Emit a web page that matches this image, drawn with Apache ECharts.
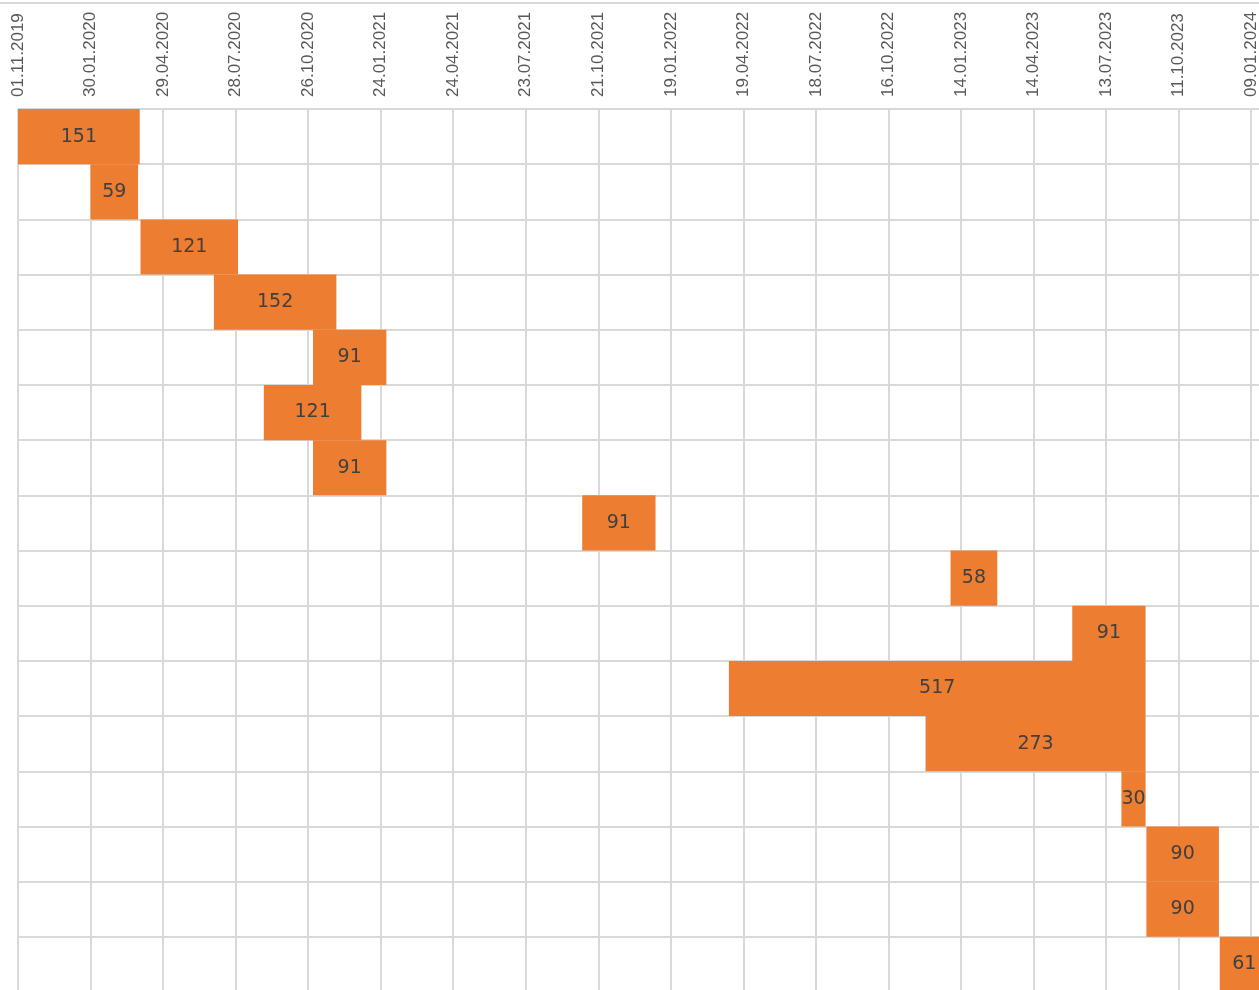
<!DOCTYPE html>
<html><head><meta charset="utf-8">
<script src="https://cdn.jsdelivr.net/npm/echarts@6/dist/echarts.min.js"></script>
<style>html,body{margin:0;padding:0;background:#fff;overflow:hidden}#c{width:1259px;height:990px}</style>
</head><body><div id="c"></div>
<script>
const axisStart = '2019-11-01';
const tickLabels = ['01.11.2019','30.01.2020','29.04.2020','28.07.2020','26.10.2020','24.01.2021','24.04.2021','23.07.2021','21.10.2021','19.01.2022','19.04.2022','18.07.2022','16.10.2022','14.01.2023','14.04.2023','13.07.2023','11.10.2023','09.01.2024'];
const categories = ['Task 1','Task 2','Task 3','Task 4','Task 5','Task 6','Task 7','Task 8','Task 9','Task 10','Task 11','Task 12','Task 13','Task 14','Task 15','Task 16'];
const startDates = ['2019-11-01','2020-01-30','2020-04-01','2020-07-01','2020-11-01','2020-09-01','2020-11-01','2021-10-01','2023-01-01','2023-06-01','2022-04-01','2022-12-01','2023-08-01','2023-09-01','2023-09-01','2023-12-01'];
const durations = [151,59,121,152,91,121,91,91,58,91,517,273,30,90,90,61];

function dayOffset(s){ return Math.round((Date.parse(s+'T00:00:00Z') - Date.parse(axisStart+'T00:00:00Z'))/86400000); }
const offsets = startDates.map(dayOffset);

const TICK = 90, AXMAX = 1620, PXD = 0.806;
const chart = echarts.init(document.getElementById('c'), null, {renderer:'canvas'});
chart.setOption({
  animation:false,
  backgroundColor:'#fff',
  graphic:[{type:'line', shape:{x1:0,y1:3,x2:1259,y2:3}, style:{stroke:'#d9d9d9', lineWidth:2}, silent:true}],
  grid:{left:18, top:109, width:AXMAX*PXD, height:883, containLabel:false, outerBoundsMode:'none'},
  xAxis:{type:'value', position:'top', min:0, max:AXMAX, interval:TICK,
    axisLine:{show:false}, axisTick:{show:false},
    axisLabel:{rotate:-90, margin:12, color:'#595959', fontSize:17, fontFamily:'"Liberation Sans",sans-serif',
      formatter:v=>tickLabels[Math.round(v/TICK)]||''},
    splitLine:{show:true, lineStyle:{color:'#d9d9d9', width:2}}},
  yAxis:{type:'category', inverse:true, data:categories,
    axisLine:{show:false}, axisTick:{show:false}, axisLabel:{show:false},
    splitLine:{show:true, lineStyle:{color:'#d9d9d9', width:2}}},
  series:[
    {type:'bar', stack:'g', data:offsets, barCategoryGap:'0%', silent:true, itemStyle:{color:'rgba(0,0,0,0)'}},
    {type:'bar', stack:'g', data:durations, barCategoryGap:'0%', itemStyle:{color:'#ED7D31'},
      label:{show:true, position:'inside', color:'#404040', fontSize:19, fontFamily:'"DejaVu Sans",sans-serif'}}
  ]
});
</script></body></html>
